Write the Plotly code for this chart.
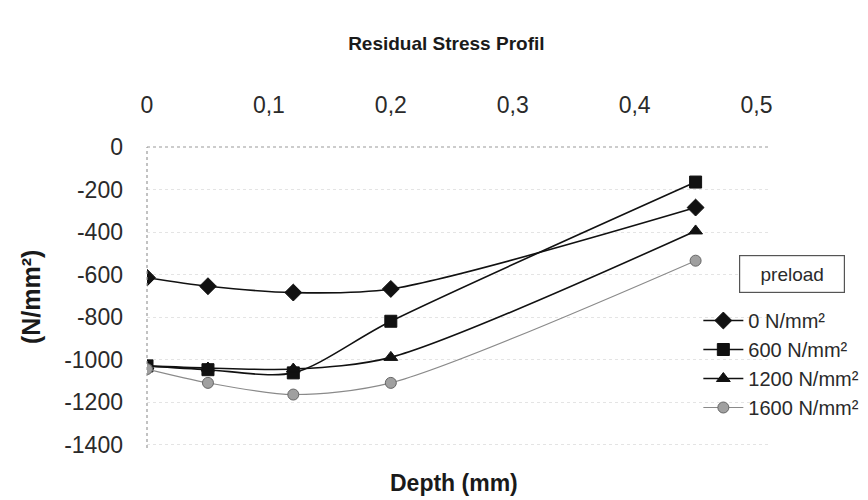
import plotly.graph_objects as go

# ---- data ----
depth = [0, 0.05, 0.12, 0.2, 0.45]
series_names = ["0 N/mm²", "600 N/mm²", "1200 N/mm²", "1600 N/mm²"]
stress_0 = [-615, -655, -685, -668, -285]
stress_600 = [-1030, -1048, -1063, -820, -165]
stress_1200 = [-1030, -1040, -1045, -990, -395]
stress_1600 = [-1045, -1110, -1165, -1110, -535]

x_tickvals = [0, 0.1, 0.2, 0.3, 0.4, 0.5]
x_ticktext = ["0", "0,1", "0,2", "0,3", "0,4", "0,5"]
y_tickvals = [0, -200, -400, -600, -800, -1000, -1200, -1400]
y_ticktext = ["0", "-200", "-400", "-600", "-800", "-1000", "-1200", "-1400"]

NARROW = "Liberation Sans Narrow, Arial Narrow, Liberation Sans, Arial, sans-serif"
REG = "Liberation Sans, Arial, sans-serif"
W, H = 868, 500
L, R, T, B = 139, 104, 139, 60

styles = [
    dict(symbol="diamond", size=13, color="#111111", lc="#111111", lw=1.6),
    dict(symbol="square", size=12, color="#111111", lc="#111111", lw=1.6),
    dict(symbol="triangle-up", size=12, color="#111111", lc="#111111", lw=1.6),
    dict(symbol="circle", size=11, color="#a0a0a0", lc="#8a8a8a", lw=1.1),
]
all_series = [stress_0, stress_600, stress_1200, stress_1600]

fig = go.Figure()
for i, (name, vals) in enumerate(zip(series_names, all_series)):
    s = styles[i]
    fig.add_trace(go.Scatter(
        x=depth, y=vals, name=name, legendgroup=name,
        mode="lines+markers",
        line=dict(color=s["lc"], width=s["lw"], shape="spline", smoothing=0.8),
        marker=dict(symbol=s["symbol"], size=s["size"], color=s["color"],
                    line=dict(color="#666666" if i == 3 else s["color"], width=1)),
    ))

plot_w = W - L - R
plot_h = H - T - B
fig.update_layout(
    width=W, height=H,
    margin=dict(l=L, r=R, t=T, b=B),
    paper_bgcolor="white", plot_bgcolor="white",
    font=dict(family=NARROW, size=23, color="#2a2a2a"),
    title=dict(text="<b>Residual Stress Profil</b>", x=0.505, xref="container", xanchor="center",
               y=1 - 35 / H, yanchor="middle",
               font=dict(family=REG, size=19, color="#1a1a1a")),
    showlegend=True,
    legend=dict(x=(693 - L) / plot_w, xanchor="left", y=((H - B) - 293) / plot_h, yanchor="top",
                bgcolor="rgba(0,0,0,0)", font=dict(family=REG, size=20, color="#2a2a2a"),
                tracegroupgap=0, itemwidth=40),
    xaxis=dict(range=[0, plot_w / 1225], side="top", tickvals=x_tickvals, ticktext=x_ticktext,
               showgrid=False, zeroline=False, showline=False, ticks="",
               ticklabelstandoff=28),
    yaxis=dict(range=[-plot_h / 0.2125, 0], tickvals=y_tickvals, ticktext=y_ticktext,
               showgrid=True, gridcolor="#e4e4e4", griddash="dot", gridwidth=1,
               zeroline=False, showline=False, ticks="", ticklabelstandoff=23),
    shapes=[
        dict(type="line", xref="paper", yref="paper", x0=0, x1=1, y0=1, y1=1,
             line=dict(color="#9a9a9a", width=1.2, dash="dot")),
        dict(type="line", xref="paper", yref="paper", x0=0, x1=0, y0=0, y1=1,
             line=dict(color="#9a9a9a", width=1.2, dash="dot")),
    ],
    annotations=[
        dict(text="<b>Depth (mm)</b>", xref="paper", yref="paper",
             x=(447 - L) / plot_w, y=-(475 - (H - B)) / plot_h,
             xanchor="center", yanchor="middle", showarrow=False,
             font=dict(family=REG, size=23, color="#1a1a1a")),
        dict(text="<b>(N/mm²)</b>", xref="paper", yref="paper",
             x=(22 - L) / plot_w, y=0.5, textangle=-90,
             xanchor="center", yanchor="middle", showarrow=False,
             font=dict(family=REG, size=25, color="#1a1a1a")),
        dict(text="preload", xref="paper", yref="paper",
             x=(787 - L) / plot_w, y=((H - B) - 266) / plot_h,
             xanchor="center", yanchor="middle", showarrow=False,
             width=100, height=32, bordercolor="#555555", borderwidth=1.2, borderpad=2,
             bgcolor="white", font=dict(family=REG, size=19, color="#2a2a2a")),
    ],
)

fig.write_html("out.html")
